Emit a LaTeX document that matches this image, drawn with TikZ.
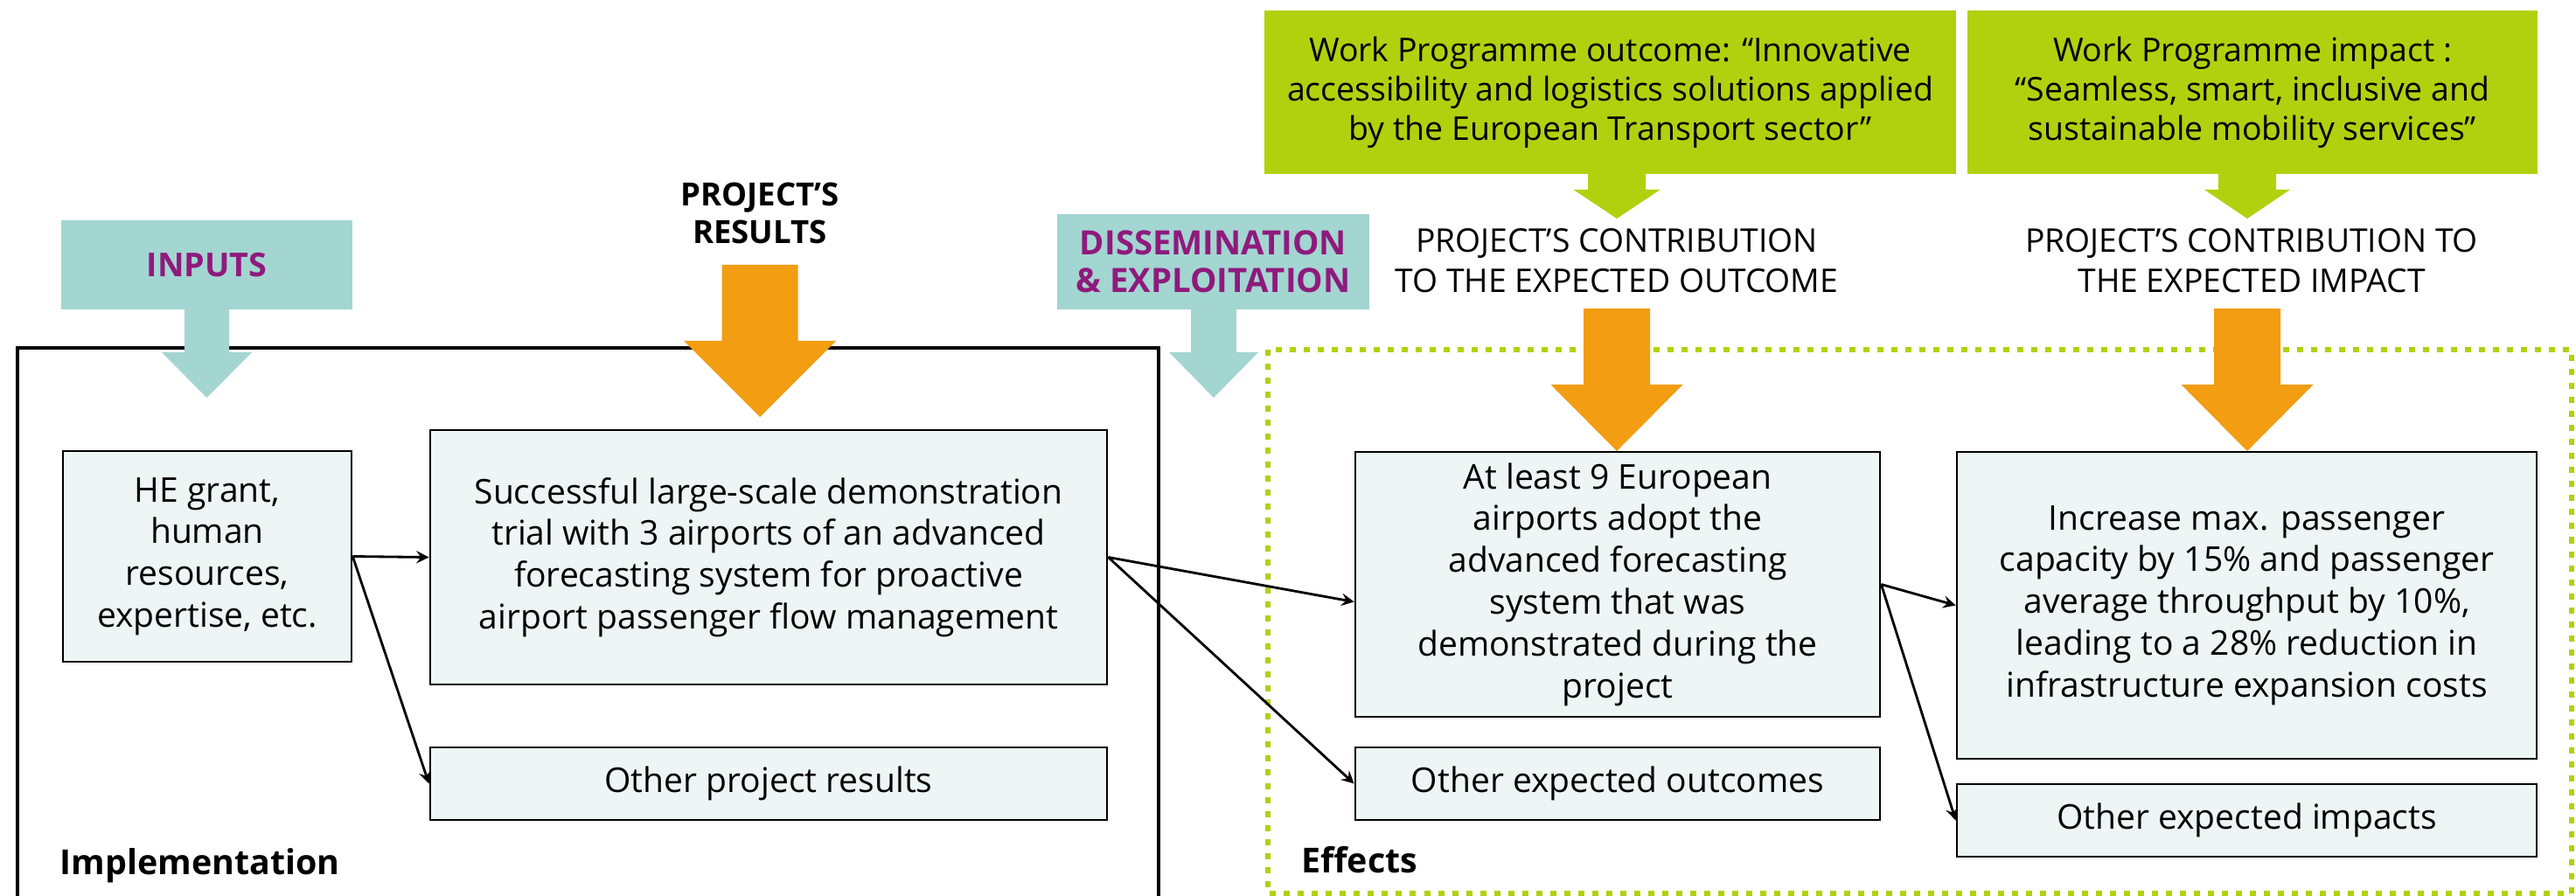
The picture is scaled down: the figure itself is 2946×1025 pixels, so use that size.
\documentclass[tikz,border=0pt]{standalone}
\usepackage{fontspec}
\setmainfont{Open Sans}
\usepackage{tikz}
\usetikzlibrary{calc}
\definecolor{tealbox}{HTML}{A3D5D1}
\definecolor{purplish}{HTML}{8F1A7C}
\definecolor{orangearr}{HTML}{F29D12}
\definecolor{greenwp}{HTML}{B1D10E}
\definecolor{boxfill}{HTML}{EDF6F4}
\tikzset{res box/.style={draw, line width=0.7pt, fill=boxfill, align=center, inner sep=0pt,
    font=\fontsize{11.1}{13.6}\selectfont},
  wp box/.style={fill=greenwp, align=center, inner sep=0pt, font=\fontsize{10.65}{12.8}\selectfont},
  teal label/.style={fill=tealbox, text=purplish, align=center, inner sep=0pt,
    font=\bfseries\fontsize{10.9}{12.2}\selectfont},
  head label/.style={align=center, font=\fontsize{10.6}{13}\selectfont},
  part label/.style={anchor=base west, font=\bfseries\fontsize{11.2}{13}\selectfont},
  link/.style={-stealth, line width=0.8pt}
}
% block arrow pointing down: colour, x, top, head, tip, half stem, half head
\newcommand{\blockdown}[7]{%
  \fill[#1] (#2-#6,#3) -- (#2+#6,#3) -- (#2+#6,#4) -- (#2+#7,#4) -- (#2,#5)
    -- (#2-#7,#4) -- (#2-#6,#4) -- cycle;}

\begin{document}
\begin{tikzpicture}[x=0.01cm, y=-0.01cm]
\useasboundingbox (0,0) rectangle (2946,1025);

%frames
\draw[line width=0.04cm] (20,1100) -- (20,398) -- (1325,398) -- (1325,1100);
\draw[greenwp, line width=0.06cm, dash pattern=on 0.07cm off 0.09cm] (1450,400) rectangle (2941,1022);

%work programme
\node[wp box, minimum width=7.91cm, minimum height=1.87cm] (wpout) at (1841.5,105.5)
    {Work Programme outcome: “Innovative\\accessibility and logistics solutions applied\\by the European Transport sector”};
\node[wp box, minimum width=6.52cm, minimum height=1.87cm] (wpimp) at (2576,105.5)
    {Work Programme impact :\\“Seamless, smart, inclusive and\\sustainable mobility services”};
    \blockdown{greenwp}{1849}{198}{217}{250}{33}{49.5}
    \blockdown{greenwp}{2570}{198}{217}{250}{33}{49}

%inputs
\node[teal label, font=\bfseries\fontsize{10.7}{12.2}\selectfont, minimum width=3.33cm, minimum height=1.02cm] (inputs) at (236.5,303) {INPUTS};
    \blockdown{tealbox}{236.5}{353}{403}{455}{25.5}{51.5}

%dissemination
\node[teal label, minimum width=3.57cm, minimum height=1.09cm] (dissem) at (1387.5,299.5)
    {DISSEMINATION\\\& EXPLOITATION};
    \blockdown{tealbox}{1388}{353}{403}{455}{26}{51}

%results
\node[head label, font=\bfseries\fontsize{10.4}{12.2}\selectfont] (results) at (869,243.5) {PROJECT’S\\RESULTS};
    \blockdown{orangearr}{869}{303}{390}{477}{43.5}{87}

%contributions
\node[head label] (contrib out) at (1849,298) {PROJECT’S CONTRIBUTION\\TO THE EXPECTED OUTCOME};
    \blockdown{orangearr}{1849}{353}{440}{516}{38}{75.5}
\node[head label] (contrib imp) at (2575,298) {PROJECT’S CONTRIBUTION TO\\THE EXPECTED IMPACT};
    \blockdown{orangearr}{2570}{353}{440}{516}{38}{75.5}

%implementation
\node[res box, minimum width=3.30cm, minimum height=2.41cm] (he) at (237,636.5)
    {HE grant,\\human\\resources,\\expertise, etc.};
\node[res box, minimum width=7.74cm, minimum height=2.91cm] (trial) at (879,637.5)
    {Successful large-scale demonstration\\trial with 3 airports of an advanced\\forecasting system for proactive\\airport passenger flow management};
\node[res box, minimum width=7.74cm, minimum height=0.83cm] (other res) at (879,896.5) {Other project results};
    \node[part label] (impl) at (56,1000) {Implementation};

%effects
\node[res box, minimum width=6.00cm, minimum height=3.03cm] (outcome) at (1850,668.5)
    {At least 9 European\\airports adopt the\\advanced forecasting\\system that was\\demonstrated during the\\project};
\node[res box, minimum width=6.63cm, minimum height=3.51cm] (impact) at (2569.5,692.5)
    {Increase max. passenger\\capacity by 15\% and passenger\\average throughput by 10\%,\\leading to a 28\% reduction in\\infrastructure expansion costs};
\node[res box, minimum width=6.00cm, minimum height=0.83cm] (other out) at (1850,896.5) {Other expected outcomes};
\node[res box, minimum width=6.63cm, minimum height=0.83cm] (other imp) at (2569.5,938.5) {Other expected impacts};
    \node[part label] (eff) at (1476,998) {Effects};

%links
\draw[link] (he.east) -- (trial.west);
\draw[link] (he.east) -- (other res.west);
\draw[link] (trial.east) -- ([yshift=-0.2cm]outcome.west);
\draw[link] (trial.east) -- (other out.west);
\draw[link] (outcome.east) -- (impact.west);
\draw[link] (outcome.east) -- (other imp.west);

\end{tikzpicture}
\end{document}
